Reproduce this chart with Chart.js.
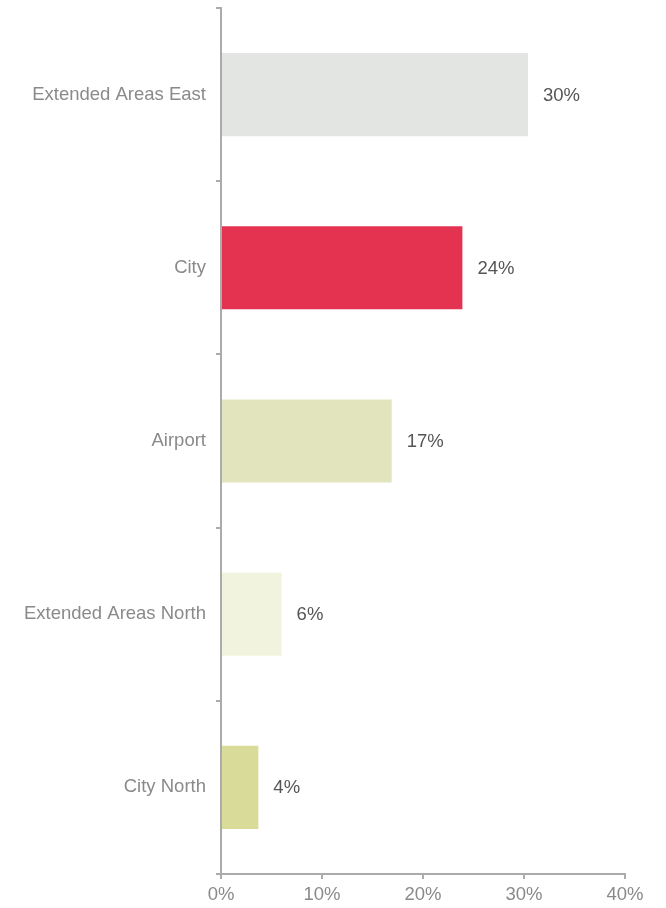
<!DOCTYPE html>
<html>
<head>
<meta charset="utf-8">
<script src="https://cdn.jsdelivr.net/npm/chart.js@4/dist/chart.umd.min.js"></script>
<style>
  html, body { margin: 0; padding: 0; background: #fff; }
  #wrap { width: 666px; height: 908px; }
</style>
</head>
<body>
<div id="wrap"><canvas id="myChart"></canvas></div>
<script>
const areas = ['Extended Areas East', 'City', 'Airport', 'Extended Areas North', 'City North'];
const shares = [30.4, 23.9, 16.9, 6.0, 3.7];
const shareLabels = ['30%', '24%', '17%', '6%', '4%'];
const barColors = ['#e3e5e3', '#e33350', '#e2e4bd', '#f1f3de', '#d8dc98'];
const xTicks = [0, 10, 20, 30, 40];

Chart.defaults.font.family = '"Liberation Sans", Arial, sans-serif';
Chart.defaults.font.size = 18.5;

// draws the percent text right of each bar
const valueLabels = {
  id: 'valueLabels',
  afterDatasetsDraw(chart) {
    const ctx = chart.ctx;
    const meta = chart.getDatasetMeta(0);
    ctx.save();
    ctx.font = '18.5px "Liberation Sans", Arial, sans-serif';
    ctx.fillStyle = '#555555';
    ctx.textAlign = 'left';
    ctx.textBaseline = 'middle';
    meta.data.forEach((bar, i) => {
      ctx.fillText(shareLabels[i], bar.x + 15, bar.y + 1);
    });
    ctx.restore();
  }
};

const axisGray = '#ababab';

new Chart(document.getElementById('myChart'), {
  type: 'bar',
  data: {
    labels: areas,
    datasets: [{
      data: shares,
      backgroundColor: barColors,
      barPercentage: 0.6,
      categoryPercentage: 0.8
    }]
  },
  options: {
    indexAxis: 'y',
    responsive: true,
    maintainAspectRatio: false,
    animation: false,
    layout: { padding: { top: 8, right: 41, left: 0, bottom: 0 } },
    plugins: {
      legend: { display: false },
      tooltip: { enabled: false }
    },
    scales: {
      x: {
        min: 0,
        max: 40,
        afterBuildTicks(axis) {
          axis.ticks = xTicks.map(v => ({ value: v }));
        },
        afterFit(axis) { axis.height = 34; },
        border: { display: true, color: axisGray, width: 2 },
        grid: { drawOnChartArea: false, color: axisGray, tickLength: 5, lineWidth: 2 },
        ticks: {
          color: '#8a8a8a',
          padding: 5,
          callback: v => v + '%'
        }
      },
      y: {
        afterFit(axis) {
          axis.width = 221;
          axis.paddingTop = 0;
          axis.paddingBottom = 0;
        },
        border: { display: true, color: axisGray, width: 2 },
        grid: { drawOnChartArea: false, color: axisGray, tickLength: 5, lineWidth: 2 },
        ticks: { color: '#8a8a8a', padding: 10 }
      }
    }
  },
  plugins: [valueLabels]
});
</script>
</body>
</html>
